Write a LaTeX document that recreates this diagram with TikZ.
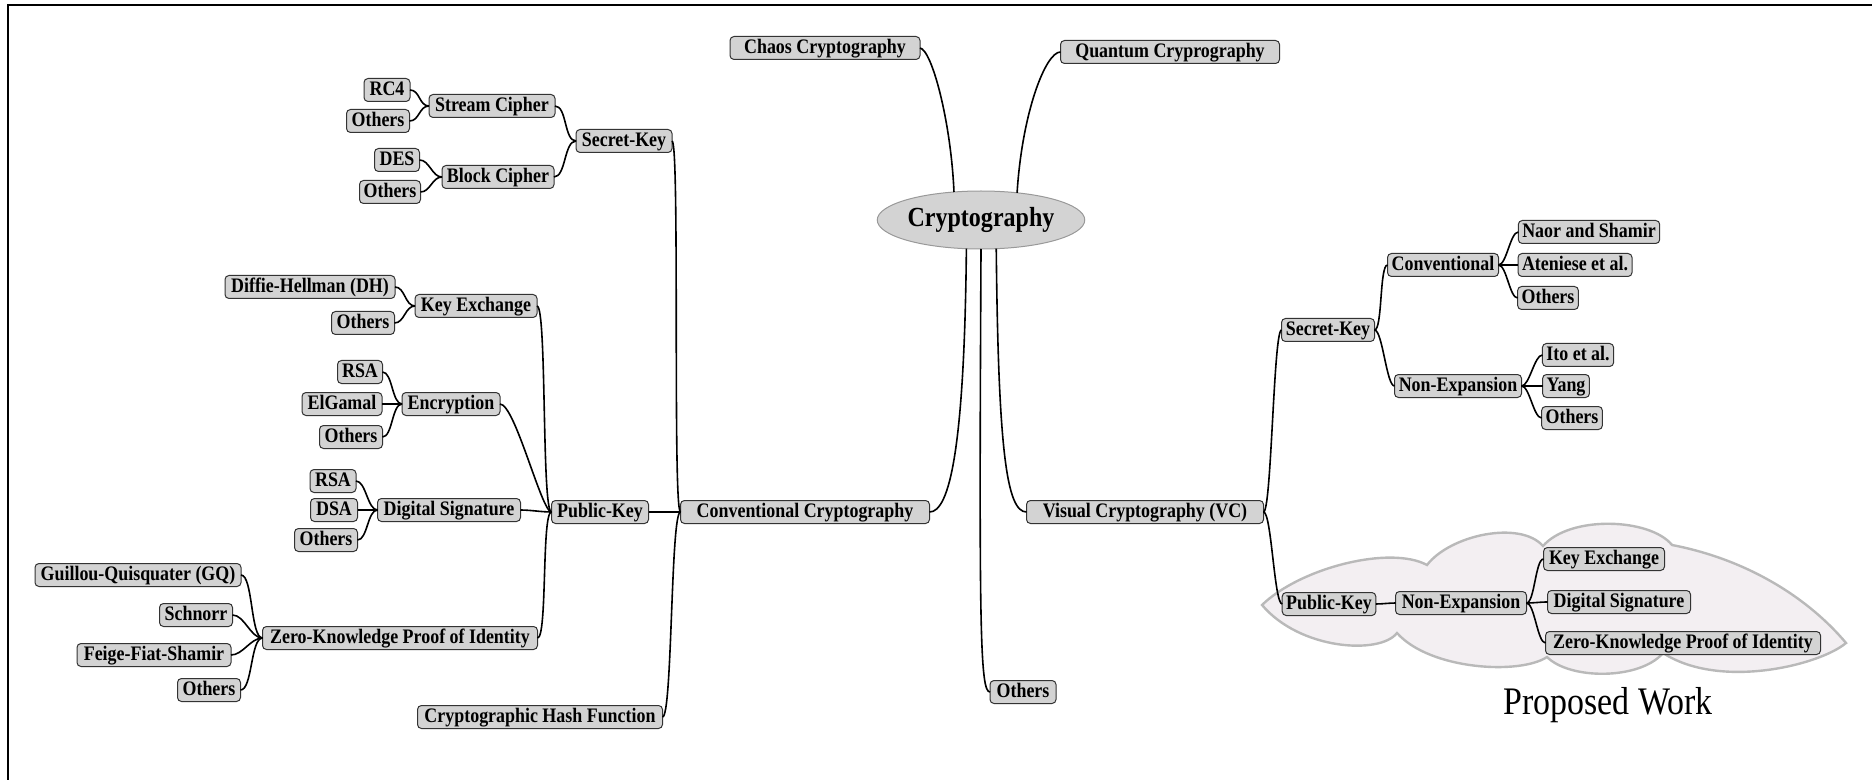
\documentclass[tikz,border=0pt]{standalone}
\usepackage{fontspec}
\setmainfont{Liberation Serif}
\newfontfamily\nodefont[FakeStretch=0.87]{Liberation Serif}
\usetikzlibrary{shapes.geometric}
\definecolor{cloudfill}{RGB}{243,239,242}
\definecolor{boxfill}{RGB}{211,211,211}
\begin{document}
\begin{tikzpicture}[x=0.5pt,y=-0.5pt,
  box/.style={draw=black!80, fill=boxfill, rounded corners=2pt, line width=0.5pt,
    font=\nodefont\bfseries\fontsize{10.3}{11}\selectfont, inner xsep=2pt, inner ysep=0pt,
    minimum height=11.5pt, text height=7.2pt, text depth=2.1pt, outer sep=0pt},
  conn/.style={draw=black, line width=0.8pt},
  mmc/.style={to path={.. controls +(#1,0) and +(-#1,0) .. (\tikztotarget)}},
  mmc/.default=10]
\useasboundingbox (0,0) rectangle (1872,780);
% frame
\draw[line width=1pt] (8,780) -- (8,5) -- (1872,5);
% cloud
\draw[fill=cloudfill, draw=gray!55, line width=1.2pt]
  (1262,605) .. controls (1300,568) and (1390,545) .. (1427,565)
  .. controls (1450,535) and (1520,520) .. (1543,546)
  .. controls (1570,515) and (1650,518) .. (1672,545)
  .. controls (1750,560) and (1810,600) .. (1846,643)
  .. controls (1820,665) and (1720,690) .. (1663,653)
  .. controls (1640,680) and (1570,680) .. (1547,657)
  .. controls (1520,675) and (1430,670) .. (1397,633)
  .. controls (1380,655) and (1300,650) .. (1262,605) -- cycle;
\node[font=\nodefont\fontsize{19.5}{22}\selectfont] (pw) at (1608,705) {Proposed Work};
% central
\node[ellipse, draw=gray!80, fill=boxfill, line width=0.5pt, minimum width=81.5pt, minimum height=29pt, inner sep=0pt, outer sep=0pt, font=\nodefont\bfseries\fontsize{13.8}{15}\selectfont] (crypt) at (981,220) {Cryptography};
\node[box, minimum width=95pt] (chaos) at (825,48) {Chaos Cryptography};
\node[box, minimum width=109.5pt] (quant) at (1170,52) {Quantum Cryprography};
\node[box, minimum width=124.5pt] (conv) at (805,512) {Conventional Cryptography};
\node[box, minimum width=118.5pt] (vc) at (1145,512) {Visual Cryptography (VC)};
\node[box, minimum width=33pt] (othm) at (1023,692) {Others};
% left: secret key
\node[box, minimum width=23pt] (rc4) at (387,90) {RC4};
\node[box, minimum width=31.5pt] (oths) at (378,121) {Others};
\node[box, minimum width=63pt] (stream) at (492,106) {Stream Cipher};
\node[box, minimum width=22.5pt] (des) at (397,160) {DES};
\node[box, minimum width=30.5pt] (othb) at (390,192) {Others};
\node[box, minimum width=56pt] (block) at (498,177) {Block Cipher};
\node[box, minimum width=48pt] (sk) at (624,141) {Secret-Key};
% left: public key
\node[box, minimum width=85pt] (dh) at (310,287) {Diffie-Hellman (DH)};
\node[box, minimum width=31.5pt] (othk) at (363,323) {Others};
\node[box, minimum width=61pt] (kex) at (476,306) {Key Exchange};
\node[box, minimum width=22.5pt] (rsae) at (360,372) {RSA};
\node[box, minimum width=40pt] (elg) at (342,404) {ElGamal};
\node[box, minimum width=31.5pt] (othe) at (351,437) {Others};
\node[box, minimum width=49pt] (enc) at (451,404) {Encryption};
\node[box, minimum width=23pt] (rsad) at (333,481) {RSA};
\node[box, minimum width=23.5pt] (dsa) at (334,510) {DSA};
\node[box, minimum width=31.5pt] (othd) at (326,540) {Others};
\node[box, minimum width=71.5pt] (ds) at (449,510) {Digital Signature};
\node[box, minimum width=48.5pt] (pk) at (600,512) {Public-Key};
\node[box, minimum width=103pt] (gq) at (138,575) {Guillou-Quisquater (GQ)};
\node[box, minimum width=36.5pt] (sch) at (196,615) {Schnorr};
\node[box, minimum width=77pt] (ffs) at (154,655) {Feige-Fiat-Shamir};
\node[box, minimum width=31.5pt] (othz) at (209,690) {Others};
\node[box, minimum width=137.5pt] (zk) at (400,638) {Zero-Knowledge Proof of Identity};
\node[box, minimum width=122.5pt] (hash) at (540,717) {Cryptographic Hash Function};
% right
\node[box, minimum width=46.5pt] (sk2) at (1328,330) {Secret-Key};
\node[box, minimum width=55.5pt] (conv2) at (1443,265) {Conventional};
\node[box, minimum width=70.5pt] (naor) at (1589,232) {Naor and Shamir};
\node[box, minimum width=56.5pt] (aten) at (1575,265) {Ateniese et al.};
\node[box, minimum width=30pt] (othc) at (1548,298) {Others};
\node[box, minimum width=63.5pt] (ne) at (1458,386) {Non-Expansion};
\node[box, minimum width=34.5pt] (ito) at (1578,355) {Ito et al.};
\node[box, minimum width=23pt] (yang) at (1566,386) {Yang};
\node[box, minimum width=29pt] (othn) at (1572,418) {Others};
\node[box, minimum width=46.5pt] (pk2) at (1329,604) {Public-Key};
\node[box, minimum width=65.5pt] (ne2) at (1461,603) {Non-Expansion};
\node[box, minimum width=60.5pt] (kex2) at (1604,559) {Key Exchange};
\node[box, minimum width=71.5pt] (ds2) at (1619,602) {Digital Signature};
\node[box, minimum width=137.5pt] (zk2) at (1683,643) {Zero-Knowledge Proof of Identity};
% connectors: centre
\draw[conn] (chaos.east) .. controls +(12,2) and +(-3,-70) .. (crypt.134.6);
\draw[conn] (crypt.37.8) .. controls +(5,-80) and +(-15,0) .. (quant.west);
\draw[conn] (crypt.-117.8) .. controls +(-2,200) and +(20,0) .. (conv.east);
\draw[conn] (crypt.-90) .. controls +(-2,380) and +(-10,0) .. (othm.west);
\draw[conn] (crypt.-62.2) .. controls +(2,200) and +(-20,0) .. (vc.west);
% left
\draw[conn] (rc4.east) to[mmc] (stream.west);
\draw[conn] (oths.east) to[mmc] (stream.west);
\draw[conn] (des.east) to[mmc] (block.west);
\draw[conn] (othb.east) to[mmc] (block.west);
\draw[conn] (stream.east) to[mmc=12] (sk.west);
\draw[conn] (block.east) to[mmc=12] (sk.west);
\draw[conn] (sk.east) to[mmc=8] (conv.west);
\draw[conn] (pk.east) -- (conv.west);
\draw[conn] (hash.east) to[mmc=10] (conv.west);
\draw[conn] (dh.east) to[mmc] (kex.west);
\draw[conn] (othk.east) to[mmc] (kex.west);
\draw[conn] (rsae.east) to[mmc] (enc.west);
\draw[conn] (elg.east) -- (enc.west);
\draw[conn] (othe.east) to[mmc] (enc.west);
\draw[conn] (rsad.east) to[mmc] (ds.west);
\draw[conn] (dsa.east) -- (ds.west);
\draw[conn] (othd.east) to[mmc] (ds.west);
\draw[conn] (gq.east) to[mmc=12] (zk.west);
\draw[conn] (sch.east) to[mmc=12] (zk.west);
\draw[conn] (ffs.east) to[mmc=12] (zk.west);
\draw[conn] (othz.east) to[mmc=12] (zk.west);
\draw[conn] (kex.east) to[mmc=10] (pk.west);
\draw[conn] (enc.east) .. controls +(15,0) and +(-10,0) .. (pk.west);
\draw[conn] (ds.east) to[mmc] (pk.west);
\draw[conn] (zk.east) to[mmc=10] (pk.west);
% right
\draw[conn] (vc.east) to[mmc=8] (sk2.west);
\draw[conn] (vc.east) to[mmc=8] (pk2.west);
\draw[conn] (sk2.east) to[mmc=8] (conv2.west);
\draw[conn] (sk2.east) to[mmc=8] (ne.west);
\draw[conn] (conv2.east) to[mmc=8] (naor.west);
\draw[conn] (conv2.east) -- (aten.west);
\draw[conn] (conv2.east) to[mmc=8] (othc.west);
\draw[conn] (ne.east) to[mmc=8] (ito.west);
\draw[conn] (ne.east) -- (yang.west);
\draw[conn] (ne.east) to[mmc=8] (othn.west);
\draw[conn] (pk2.east) to[mmc=6] (ne2.west);
\draw[conn] (ne2.east) to[mmc=8] (kex2.west);
\draw[conn] (ne2.east) to[mmc=8] (ds2.west);
\draw[conn] (ne2.east) to[mmc=8] (zk2.west);
\end{tikzpicture}
\end{document}
